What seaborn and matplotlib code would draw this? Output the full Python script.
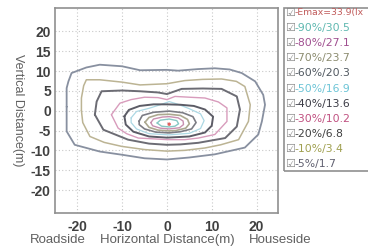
import numpy as np
import pandas as pd
import matplotlib
matplotlib.use("Agg")
import matplotlib.pyplot as plt
import seaborn as sns
from matplotlib.patches import Rectangle

# contour outlines (x, y) in metres
outline_5 = [(-22.4, 1), (-22.4, 5.7), (-22.0, 7.4), (-21.3, 9.5), (-18, 10.9), (-15, 11.6), (-10, 11.2),
             (-6, 10.2), (0, 10.3), (2.5, 10.1), (7, 10.5), (10.7, 10.7), (14, 10.4), (16.7, 9.5),
             (19.7, 7.4), (21.5, 4), (21.9, 1.5), (21.2, -2.7), (20.4, -6), (17.4, -9.3), (10.7, -11),
             (5, -11.8), (0, -12.3), (-5, -12), (-10.1, -11.1), (-15, -10.3), (-20.6, -8.6),
             (-22.4, -5.2), (-22.4, 1)]
outline_10 = [(-19.1, 0), (-19.1, 3.2), (-18.6, 6.3), (-18, 7.8), (-15, 7.8), (-10, 7.2), (-6, 6.5),
              (0, 6.8), (4, 7.6), (8, 7.9), (12.2, 8), (15.5, 7.4), (17.4, 6.1), (18.6, 1.5),
              (18.2, -2.7), (16, -7.3), (12, -8.6), (8.5, -9.4), (4, -10), (0, -10.2), (-5, -9.8),
              (-10.1, -9), (-14, -8), (-17.2, -6.5), (-18.8, -3), (-19.1, 0)]
outline_20 = [(-16.1, -1), (-15.7, 2.3), (-14.6, 4.9), (-10, 5.1), (-6, 4.9), (-2, 4.6), (0, 4.2),
              (3.3, 5.5), (8, 5.6), (12.2, 5.5), (15.6, 3.6), (16.3, 0.3), (15.6, -4), (13, -6.9),
              (7, -8.1), (3, -8.5), (0, -8.6), (-4, -8.3), (-8.7, -7.3), (-14.2, -4.8), (-16.1, -1)]
outline_30 = [(-12.4, -1), (-10.5, 1.9), (-8, 2.8), (-5, 3.4), (-2, 3.3), (0, 2.8), (1.8, 3.6),
              (5, 3.4), (8.5, 3.2), (11.5, 2.2), (13.4, 0.7), (13.4, -2.7), (10.7, -6), (7, -6.9),
              (4, -7.3), (0, -7.3), (-3, -7.1), (-6.4, -6.9), (-9, -5.8), (-10.9, -4.4), (-12.4, -1)]
outline_40 = [(-9.5, -1.4), (-8.5, 0.2), (-6.1, 1.2), (-3, 1.6), (0, 1.6), (3, 1.5), (6, 1.2),
              (8.5, 0.3), (10.3, -1.5), (10, -3.8), (8.5, -5.5), (5, -6.5), (0, -6.8), (-4, -6.5),
              (-7.5, -5.3), (-9.2, -3.5), (-9.5, -1.4)]
outline_50 = [(-8, -1.8), (-6.8, -0.2), (-4, 0.6), (-1.5, 1.5), (0.5, 2.3), (2.5, 1.6), (5, 0.5),
              (7.5, -0.8), (8.3, -2.5), (7.5, -4.5), (5, -5.7), (0.5, -6.1), (-4, -5.8),
              (-6.8, -4.6), (-8, -3), (-8, -1.8)]
outline_60 = [(-6.2, -2.6), (-5.5, -1.2), (-3, -0.4), (0.5, -0.1), (3.5, -0.5), (5.8, -1.5),
              (6.5, -3.0), (5.5, -4.6), (3, -5.3), (0.5, -5.6), (-2.5, -5.4), (-5, -4.6),
              (-6.2, -3.5), (-6.2, -2.6)]
outline_70 = [(-4.9, -2.9), (-4, -1.7), (-2, -1.0), (0.5, -0.9), (3, -1.2), (4.6, -2.2), (5.0, -3.3),
              (4.2, -4.4), (2, -5.0), (0.5, -5.1), (-2, -4.9), (-4, -4.2), (-4.9, -2.9)]
outline_80 = [(-3.6, -3.0), (-3, -2.1), (-1, -1.6), (0.5, -1.5), (2.5, -1.8), (3.6, -2.6),
              (3.7, -3.5), (2.8, -4.3), (0.5, -4.6), (-1.5, -4.4), (-3.2, -3.8), (-3.6, -3.0)]
outline_90 = [(-2.2, -3.1), (-1.5, -2.4), (0.5, -2.1), (2.2, -2.5), (2.6, -3.3), (1.8, -3.9),
              (0.5, -4.1), (-1.2, -3.9), (-2.2, -3.1)]
emax_point = (0.5, -3.4)

legend_labels = ["-Emax=33.9(lx", "-90%/30.5", "-80%/27.1", "-70%/23.7", "-60%/20.3",
                 "-50%/16.9", "-40%/13.6", "-30%/10.2", "-20%/6.8", "-10%/3.4", "-5%/1.7"]
legend_colors = ["#c05a5a", "#5fb8b0", "#a05090", "#8c8c70", "#505860",
                 "#6cc4d6", "#3c3c46", "#c05080", "#404040", "#a0a050", "#606070"]

outlines = [outline_90, outline_80, outline_70, outline_60, outline_50,
            outline_40, outline_30, outline_20, outline_10, outline_5]
line_colors = ["#86c8c4", "#c890b0", "#aca890", "#7c7c84", "#acd8e4",
               "#5c5c66", "#d89cbc", "#6c6c74", "#bcb494", "#8890a0"]
line_widths = [1.0, 1.0, 1.2, 1.2, 0.9, 1.4, 1.0, 1.4, 1.1, 1.3]

sns.set_style("white")
plt.rcParams['font.family'] = ['Liberation Sans', 'DejaVu Sans']
plt.rcParams['axes.unicode_minus'] = False

fig = plt.figure(figsize=(3.68, 2.48), dpi=100)
ax = fig.add_axes([55 / 368, 1 - 213 / 248, 223 / 368, 205 / 248])

for pts, col, lw in zip(outlines, line_colors, line_widths):
    d = pd.DataFrame(pts, columns=["x", "y"])
    sns.lineplot(data=d, x="x", y="y", sort=False, estimator=None, color=col,
                 linewidth=lw, ax=ax)
sns.scatterplot(x=[emax_point[0]], y=[emax_point[1]], color="#e06060", s=6,
                edgecolor="none", ax=ax)

ax.set_xlim(-25, 24.8)
ax.set_ylim(-25.8, 25.9)
ax.set_xticks([-20, -10, 0, 10, 20])
ax.set_xticks(np.arange(-24, 25, 2), minor=True)
ax.set_yticks(np.arange(-20, 21, 5))
ax.grid(True, which="major", linestyle=(0, (1, 2)), color="#c8c8c8", linewidth=0.8)
ax.tick_params(axis="x", which="both", direction="out", length=5, width=0.8,
               color="#707070", pad=0, labelsize=10, labelcolor="#404040")
ax.tick_params(axis="y", which="both", length=0, pad=3, labelsize=10, labelcolor="#404040")
for lab in ax.get_xticklabels() + ax.get_yticklabels():
    lab.set_fontweight("bold")
for s in ax.spines.values():
    s.set_color("#909090")
    s.set_linewidth(1.2)
ax.set_xlabel("")
ax.set_ylabel("")

fig.text(18 / 368, 1 - 110 / 248, "Vertical Distance(m)", rotation=270, ha="center",
         va="center", fontsize=9, color="#606060")
fig.text(58 / 368, 1 - 240 / 248, "Roadside", ha="center", va="center", fontsize=9.5, color="#606060")
fig.text(167 / 368, 1 - 240 / 248, "Horizontal Distance(m)", ha="center", va="center",
         fontsize=9.5, color="#606060")
fig.text(280 / 368, 1 - 240 / 248, "Houseside", ha="center", va="center", fontsize=9.5, color="#606060")

# legend box drawn by hand, runs off the right edge like the original
fig.patches.append(Rectangle((284 / 368, 1 - 171 / 248), 100 / 368, 163 / 248,
                             transform=fig.transFigure, fill=False, edgecolor="#909090",
                             linewidth=1.2))
for i, (lab, col) in enumerate(zip(legend_labels, legend_colors)):
    yy = 1 - (13 + 15.1 * i) / 248
    fig.text(285.5 / 368, yy, "\u2611", ha="left", va="center", fontsize=8,
             color="#8a8a8a", family="DejaVu Sans")
    fig.text(294.5 / 368, yy, lab, ha="left", va="center",
             fontsize=6.7 if i == 0 else 7.8, color=col, family="DejaVu Sans")

fig.savefig("out.png", dpi=100)
